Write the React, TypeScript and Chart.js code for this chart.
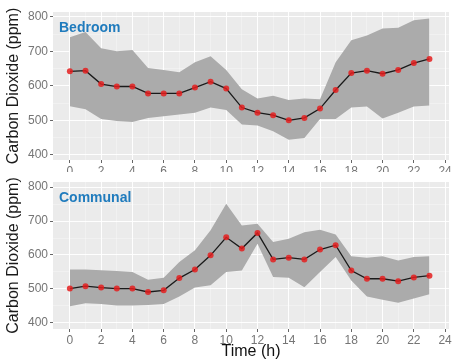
import React, { useEffect, useRef } from 'react';
import { Chart, registerables } from 'chart.js';

Chart.register(...registerables);

const hours = [0, 1, 2, 3, 4, 5, 6, 7, 8, 9, 10, 11, 12, 13, 14, 15, 16, 17, 18, 19, 20, 21, 22, 23];

const bedroomMean = [642, 644, 605, 598, 598, 578, 578, 578, 595, 612, 592, 537, 522, 515, 500, 507, 534, 588, 637, 644, 635, 646, 666, 678];
const bedroomUpper = [741, 756, 709, 700, 704, 652, 646, 639, 668, 686, 646, 590, 563, 571, 559, 563, 561, 668, 732, 746, 766, 768, 790, 795];
const bedroomLower = [541, 532, 504, 498, 495, 507, 512, 517, 522, 537, 530, 488, 485, 468, 444, 449, 504, 504, 537, 540, 505, 522, 540, 543];

const communalMean = [501, 508, 504, 501, 501, 491, 496, 532, 557, 599, 652, 619, 665, 587, 592, 587, 616, 629, 554, 530, 530, 523, 534, 539];
const communalUpper = [557, 557, 555, 553, 550, 527, 533, 579, 614, 673, 751, 687, 692, 638, 648, 667, 674, 660, 596, 592, 596, 584, 594, 596];
const communalLower = [449, 458, 456, 451, 451, 453, 456, 478, 504, 511, 550, 554, 633, 535, 533, 505, 550, 594, 525, 478, 468, 459, 472, 484];

const xGridValues = [0, 1, 2, 3, 4, 5, 6, 7, 8, 9, 10, 11, 12, 13, 14, 15, 16, 17, 18, 19, 20, 21, 22, 23, 24];
const yGridValues = [400, 450, 500, 550, 600, 650, 700, 750, 800];

const FONT = "'Liberation Sans', Arial, sans-serif";

type PanelProps = {
  label: string;
  mean: number[];
  upper: number[];
  lower: number[];
  height: number;
  top: number;
  padTop: number;
  padBottom: number;
  xAxisHeight: number;
  yMin: number;
  yMax: number;
  showXTitle: boolean;
};

function Panel(props: PanelProps) {
  const ref = useRef<HTMLCanvasElement | null>(null);
  useEffect(() => {
    if (!ref.current) return;
    const label = props.label;
    const panelPlugin = {
      id: 'panelBg',
      beforeDraw(chart: any) {
        const { ctx, chartArea } = chart;
        ctx.save();
        ctx.fillStyle = '#EBEBEB';
        ctx.fillRect(chartArea.left, chartArea.top, chartArea.right - chartArea.left, chartArea.bottom - chartArea.top);
        ctx.restore();
      },
      afterDraw(chart: any) {
        const { ctx, chartArea } = chart;
        ctx.save();
        ctx.font = `bold 14px ${FONT}`;
        ctx.fillStyle = '#1f7bbd';
        ctx.textBaseline = 'alphabetic';
        ctx.textAlign = 'left';
        ctx.fillText(label, chartArea.left + 6, chartArea.top + 20);
        ctx.restore();
      },
    };
    const chart = new Chart(ref.current, {
      type: 'line',
      data: {
        datasets: [
          {
            data: hours.map((h, i) => ({ x: h, y: props.upper[i] })),
            borderWidth: 0,
            pointRadius: 0,
            fill: '+1',
            backgroundColor: '#ABABAB',
            borderColor: 'rgba(0,0,0,0)',
            order: 2,
          },
          {
            data: hours.map((h, i) => ({ x: h, y: props.lower[i] })),
            borderWidth: 0,
            pointRadius: 0,
            fill: false,
            borderColor: 'rgba(0,0,0,0)',
            order: 1,
          },
          {
            data: hours.map((h, i) => ({ x: h, y: props.mean[i] })),
            borderColor: '#1a1a1a',
            borderWidth: 1.3,
            pointRadius: 3,
            pointBackgroundColor: 'rgba(228,30,30,0.85)',
            pointBorderWidth: 0,
            fill: false,
            tension: 0,
            order: 0,
          },
        ],
      },
      options: {
        responsive: false,
        animation: false,
        events: [],
        layout: { padding: { top: props.padTop, left: 0, right: 1, bottom: props.padBottom } },
        plugins: { legend: { display: false }, tooltip: { enabled: false }, title: { display: false } },
        scales: {
          x: {
            type: 'linear',
            min: -1.08,
            max: 24.25,
            afterBuildTicks: (scale: any) => {
              scale.ticks = xGridValues.map((v) => ({ value: v }));
            },
            afterFit: (scale: any) => {
              scale.height = props.xAxisHeight;
            },
            border: { display: false },
            grid: {
              color: (c: any) => (c.tick && c.tick.value % 2 === 0 ? 'rgba(255,255,255,0.95)' : 'rgba(255,255,255,0.6)'),
              lineWidth: (c: any) => (c.tick && c.tick.value % 2 === 0 ? 1 : 0.5),
              tickColor: (c: any) => (c.tick && c.tick.value % 2 === 0 ? '#666' : 'rgba(0,0,0,0)'),
              tickLength: 3,
              tickWidth: 1,
            },
            ticks: {
              autoSkip: false,
              maxRotation: 0,
              padding: 1,
              color: '#757575',
              font: { family: FONT, size: 12 },
              callback: (v: any) => (Number(v) % 2 === 0 ? String(v) : ''),
            },
            title: {
              display: props.showXTitle,
              text: 'Time (h)',
              color: '#111',
              font: { family: FONT, size: 16, lineHeight: 1.0 },
              padding: { top: 0, bottom: 0 },
            },
          },
          y: {
            type: 'linear',
            min: props.yMin,
            max: props.yMax,
            afterBuildTicks: (scale: any) => {
              scale.ticks = yGridValues.map((v) => ({ value: v }));
            },
            afterFit: (scale: any) => {
              scale.width = 53;
            },
            border: { display: false },
            grid: {
              color: (c: any) => (c.tick && c.tick.value % 100 === 0 ? 'rgba(255,255,255,0.95)' : 'rgba(255,255,255,0.6)'),
              lineWidth: (c: any) => (c.tick && c.tick.value % 100 === 0 ? 1 : 0.5),
              tickColor: (c: any) => (c.tick && c.tick.value % 100 === 0 ? '#666' : 'rgba(0,0,0,0)'),
              tickLength: 3,
              tickWidth: 1,
            },
            ticks: {
              autoSkip: false,
              padding: 2,
              color: '#757575',
              font: { family: FONT, size: 12 },
              callback: (v: any) => (Number(v) % 100 === 0 ? String(v) : ''),
            },
            title: {
              display: true,
              text: 'Carbon Dioxide (ppm)',
              color: '#1a1a1a',
              font: { family: FONT, size: 16 },
              padding: { top: 4, bottom: 4 },
            },
          },
        },
      },
      plugins: [panelPlugin],
    } as any);
    return () => chart.destroy();
  }, []);
  return (
    <canvas
      ref={ref}
      width={453}
      height={props.height}
      style={{ position: 'absolute', left: 0, top: props.top, width: 453, height: props.height }}
    />
  );
}

export default function App() {
  return (
    <div style={{ position: 'absolute', left: 0, top: 0, width: 453, height: 360, background: '#fff' }}>
      <Panel
        label="Bedroom"
        mean={bedroomMean}
        upper={bedroomUpper}
        lower={bedroomLower}
        height={180}
        top={0}
        padTop={12}
        padBottom={8}
        xAxisHeight={12}
        yMin={385}
        yMax={814}
        showXTitle={false}
      />
      <Panel
        label="Communal"
        mean={communalMean}
        upper={communalUpper}
        lower={communalLower}
        height={188}
        top={172}
        padTop={10}
        padBottom={0}
        xAxisHeight={31}
        yMin={382}
        yMax={815}
        showXTitle={true}
      />
    </div>
  );
}
